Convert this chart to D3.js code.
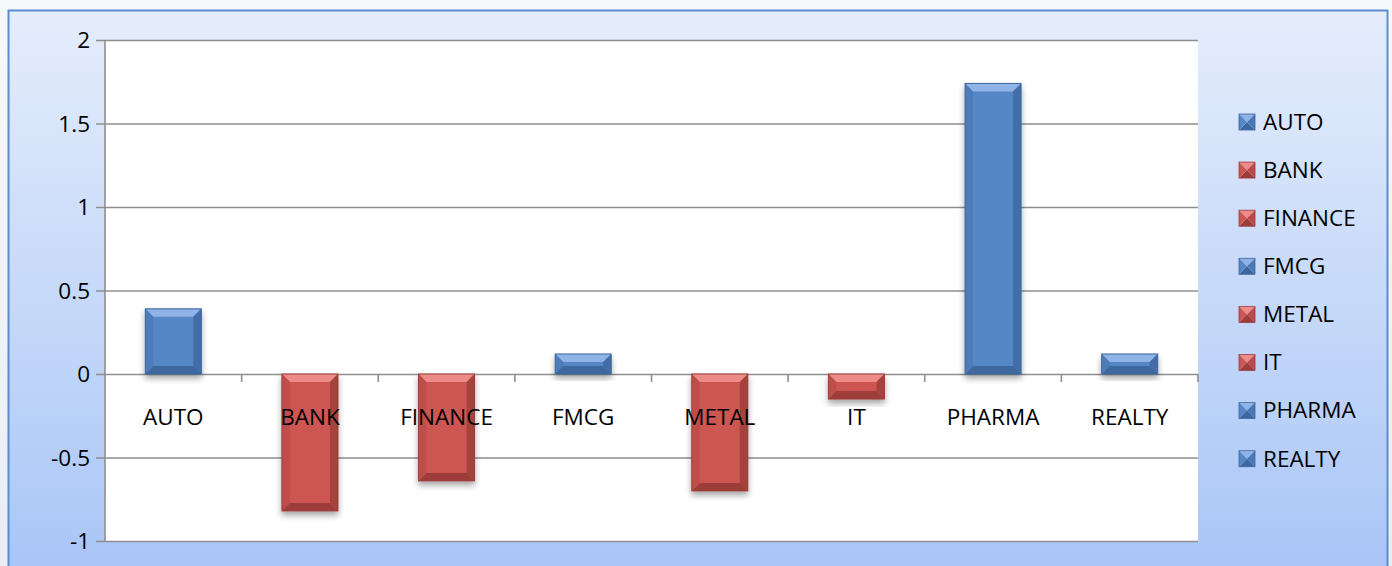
<!DOCTYPE html>
<html>
<head>
<meta charset="utf-8">
<script src="https://cdn.jsdelivr.net/npm/d3@7"></script>
<style>
  body { margin: 0; background: #fff; }
  text { font-family: "Open Sans", sans-serif; fill: #000; }
</style>
</head>
<body>
<div id="chart"></div>
<script>
const categories = ["AUTO", "BANK", "FINANCE", "FMCG", "METAL", "IT", "PHARMA", "REALTY"];
const values = [0.39, -0.82, -0.64, 0.12, -0.70, -0.15, 1.74, 0.12];
const yTicks = [-1, -0.5, 0, 0.5, 1, 1.5, 2];

const W = 1392, H = 566;
const margin = {top: 40, right: 194, bottom: 25, left: 105};
const width = W - margin.left - margin.right;
const height = 541 - margin.top;
const fontSize = 22.5;

const blue = {main: "#5586c6", light: "#8fb3e6", dark: "#3d679e", side: "#4a78b4"};
const red = {main: "#cd5652", light: "#ec8b87", dark: "#9c3d3a", side: "#b94b48"};

const svg = d3.select("#chart").append("svg")
  .attr("width", W)
  .attr("height", H);

const defs = svg.append("defs");
const outerGrad = defs.append("linearGradient").attr("id", "outer").attr("x1", 0).attr("y1", 0).attr("x2", 0).attr("y2", 1);
outerGrad.append("stop").attr("offset", "0%").attr("stop-color", "#f7f8fa");
outerGrad.append("stop").attr("offset", "100%").attr("stop-color", "#e9edf3");
const bgGrad = defs.append("linearGradient").attr("id", "bg").attr("x1", 0).attr("y1", 0).attr("x2", 0).attr("y2", 1);
bgGrad.append("stop").attr("offset", "0%").attr("stop-color", "#e5edfb");
bgGrad.append("stop").attr("offset", "100%").attr("stop-color", "#a8c5f7");
const shadow = defs.append("filter").attr("id", "shadow").attr("x", "-20%").attr("y", "-20%").attr("width", "140%").attr("height", "150%");
shadow.append("feGaussianBlur").attr("in", "SourceAlpha").attr("stdDeviation", 3);
shadow.append("feOffset").attr("dx", 0).attr("dy", 4).attr("result", "b");
shadow.append("feComponentTransfer").append("feFuncA").attr("type", "linear").attr("slope", 0.35);
const merge = shadow.append("feMerge");
merge.append("feMergeNode");
merge.append("feMergeNode").attr("in", "SourceGraphic");

svg.append("rect").attr("width", W).attr("height", H).attr("fill", "url(#outer)");
svg.append("rect")
  .attr("x", 8.5).attr("y", 10.5).attr("width", 1379).attr("height", 570)
  .attr("fill", "url(#bg)").attr("stroke", "#5b8ccf").attr("stroke-width", 2);

const g = svg.append("g").attr("transform", "translate(" + margin.left + "," + margin.top + ")");

const x = d3.scaleBand().domain(categories).range([0, width]).paddingInner(0.59).paddingOuter(0.295);
const y = d3.scaleLinear().domain([-1, 2]).range([height, 0]);

g.append("rect").attr("width", width).attr("height", height).attr("fill", "#fff");

// gridlines + y ticks
g.append("g")
  .call(d3.axisLeft(y).tickValues(yTicks).tickSize(-width).tickPadding(15).tickFormat(d => String(d)))
  .call(ax => ax.select(".domain").remove())
  .call(ax => ax.selectAll("line").attr("stroke", "#8e8e8e").attr("stroke-width", 1.6).attr("x1", -9))
  .call(ax => ax.selectAll("text").attr("font-size", fontSize).attr("font-family", "Open Sans").attr("dy", "0.34em"));

g.append("line").attr("x1", 0).attr("x2", 0).attr("y1", 0).attr("y2", height)
  .attr("stroke", "#8e8e8e").attr("stroke-width", 1.6);

// category tick marks on zero line
const step = width / categories.length;
g.append("g").selectAll("line")
  .data(d3.range(1, categories.length + 1))
  .enter().append("line")
  .attr("x1", d => d * step).attr("x2", d => d * step)
  .attr("y1", y(0)).attr("y2", y(0) + 8)
  .attr("stroke", "#8e8e8e").attr("stroke-width", 1.6);

// bars with bevel
const bev = 8;
const bars = g.append("g").selectAll("g")
  .data(categories.map((c, i) => ({c, v: values[i]})))
  .enter().append("g")
  .attr("filter", "url(#shadow)");

bars.each(function(d) {
  const col = d.v >= 0 ? blue : red;
  const x0 = x(d.c), x1 = x0 + x.bandwidth();
  const yt = Math.min(y(d.v), y(0)), yb = Math.max(y(d.v), y(0));
  const h = yb - yt;
  const b = Math.min(bev, h / 2);
  const sel = d3.select(this);
  sel.append("rect").attr("x", x0).attr("y", yt).attr("width", x1 - x0).attr("height", h).attr("fill", col.main);
  const poly = pts => pts.map(p => p.join(",")).join(" ");
  sel.append("polygon").attr("points", poly([[x0, yt], [x1, yt], [x1 - b, yt + b], [x0 + b, yt + b]])).attr("fill", col.light);
  sel.append("polygon").attr("points", poly([[x0, yb], [x1, yb], [x1 - b, yb - b], [x0 + b, yb - b]])).attr("fill", col.dark);
  sel.append("polygon").attr("points", poly([[x0, yt], [x0 + b, yt + b], [x0 + b, yb - b], [x0, yb]])).attr("fill", col.side).attr("opacity", 0.7);
  sel.append("polygon").attr("points", poly([[x1, yt], [x1 - b, yt + b], [x1 - b, yb - b], [x1, yb]])).attr("fill", col.dark).attr("opacity", 0.8);
  sel.append("rect").attr("x", x0).attr("y", yt).attr("width", x1 - x0).attr("height", h)
    .attr("fill", "none").attr("stroke", col.dark).attr("stroke-width", 1);
});

// category labels
g.append("g").selectAll("text")
  .data(categories)
  .enter().append("text")
  .attr("x", d => x(d) + x.bandwidth() / 2)
  .attr("y", y(0) + 51)
  .attr("text-anchor", "middle")
  .attr("font-size", fontSize)
  .text(d => d);

// legend
const legend = svg.append("g").attr("transform", "translate(1239,122)");
const items = legend.selectAll("g")
  .data(categories.map((c, i) => ({c, v: values[i]})))
  .enter().append("g")
  .attr("transform", (d, i) => "translate(0," + (i * 48.1) + ")");

items.each(function(d) {
  const col = d.v >= 0 ? blue : red;
  const s = 16, h = s / 2;
  const sel = d3.select(this).append("g").attr("transform", "translate(0," + (-h) + ")");
  sel.append("polygon").attr("points", "0,0 " + s + ",0 " + h + "," + h).attr("fill", col.light);
  sel.append("polygon").attr("points", "0," + s + " " + s + "," + s + " " + h + "," + h).attr("fill", col.dark);
  sel.append("polygon").attr("points", "0,0 " + h + "," + h + " 0," + s).attr("fill", col.main);
  sel.append("polygon").attr("points", s + ",0 " + h + "," + h + " " + s + "," + s).attr("fill", col.side);
  sel.append("rect").attr("width", s).attr("height", s).attr("fill", "none").attr("stroke", col.dark).attr("stroke-width", 0.8);
});

items.append("text")
  .attr("x", 24)
  .attr("dy", "0.35em")
  .attr("font-size", fontSize)
  .text(d => d.c);
</script>
</body>
</html>
